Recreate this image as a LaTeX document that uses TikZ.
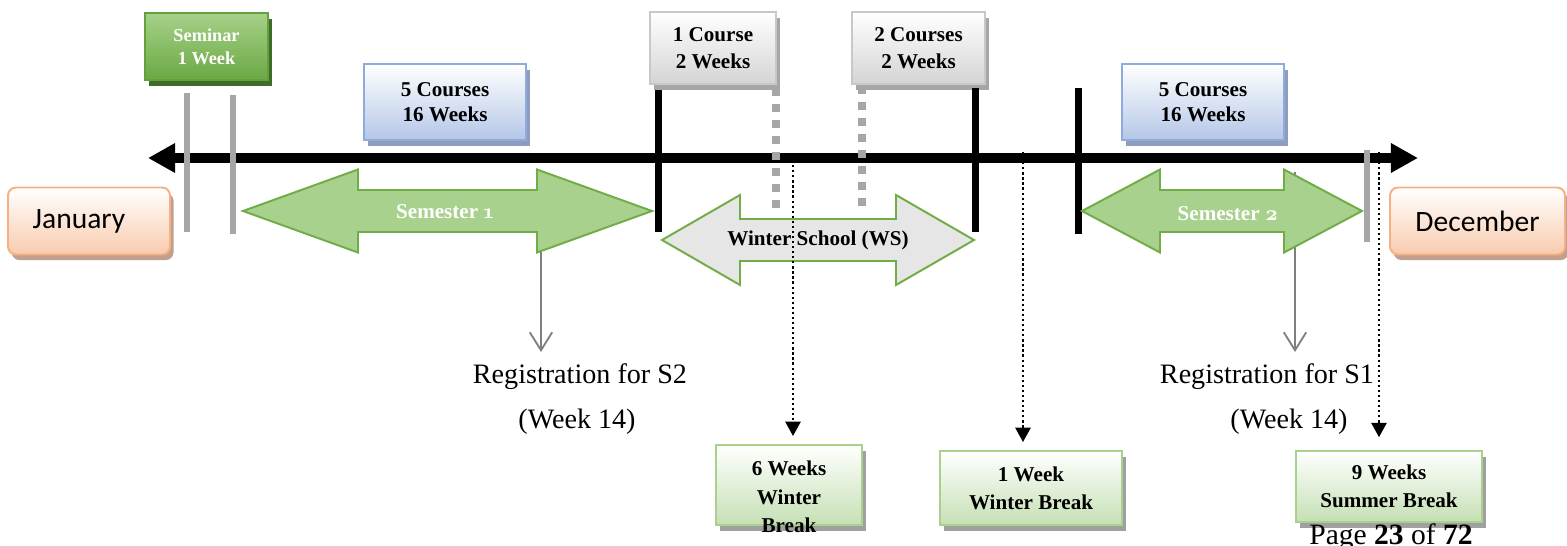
\documentclass[tikz,border=0pt]{standalone}
\usepackage{fontspec}
\setmainfont{Liberation Serif}
\newfontfamily\calibri{Carlito}
\newfontfamily\oldnum{lmroman10-regular.otf}[BoldFont=lmroman10-bold.otf, Numbers=OldStyle]
\usetikzlibrary{arrows.meta,shadows}
\definecolor{semgreen}{HTML}{A9D18E}
\definecolor{semedge}{HTML}{70AD47}
\definecolor{bargray}{HTML}{A6A6A6}
\definecolor{bluebot}{HTML}{B4C7E7}
\definecolor{blueedge}{HTML}{8FAADC}
\definecolor{blueshadow}{HTML}{8E9DBB}
\definecolor{breakbot}{HTML}{C5E0B4}
\definecolor{breakshadow}{HTML}{A0A0A0}
\definecolor{monthbot}{HTML}{F8CBAD}
\definecolor{monthedge}{HTML}{F4B183}
\definecolor{monthshadow}{HTML}{C29F8D}
\definecolor{wsgray}{HTML}{E7E6E6}
\definecolor{wsbot}{HTML}{D4D4D4}
\definecolor{wsedge}{HTML}{C8C8C8}
\definecolor{semtop}{HTML}{A6D189}
\definecolor{sembot}{HTML}{6BA843}
\definecolor{semboxedge}{HTML}{64A03C}
\definecolor{semshadow}{HTML}{3F6B2B}
\definecolor{reggray}{HTML}{7F7F7F}
\tikzset{
  sz/.style 2 args={minimum width=#1*0.025cm, minimum height=#2*0.025cm},
  card/.style={draw, line width=1.4pt, align=center, inner sep=0pt,
    font=\bfseries\fontsize{15}{19}\selectfont,
    drop shadow={shadow xshift=0.09cm, shadow yshift=-0.14cm, opacity=1, fill=#1}},
  seminarbox/.style={card=semshadow, top color=semtop, bottom color=sembot,
    draw=semboxedge, text=white, font=\bfseries\fontsize{13}{16.3}\selectfont},
  coursebox/.style={card=blueshadow, top color=white, bottom color=bluebot, draw=blueedge,
    font=\bfseries\fontsize{15}{17.7}\selectfont},
  wsbox/.style={card=bargray, top color=white, bottom color=wsbot, draw=wsedge},
  breakbox/.style={card=breakshadow, top color=white, bottom color=breakbot, draw=semgreen,
    font=\bfseries\fontsize{15}{20}\selectfont},
  breaktext/.style={align=center, inner sep=0pt, font=\bfseries\fontsize{15}{20.2}\selectfont},
  monthbox/.style={card=monthshadow, rounded corners=0.2cm, top color=white, bottom color=monthbot,
    draw=monthedge, font=\calibri\fontsize{21}{25}\selectfont},
  axis/.style={line width=0.25cm, {Triangle[length=0.68cm,width=0.7cm]}-{Triangle[length=0.68cm,width=0.7cm]}},
  graybar/.style={draw=bargray, line width=0.15cm},
  blackbar/.style={draw=black, line width=0.175cm},
  graydash/.style={draw=bargray, line width=0.2cm, dash pattern=on 0.2cm off 0.2cm},
  semarrow/.style={fill=semgreen, draw=semedge, line width=1.4pt, line join=miter},
  semlabel/.style={inner sep=0pt, text=white, font=\bfseries\fontsize{15}{18}\selectfont},
  wslabel/.style={semlabel, text=black},
  regarrow/.style={draw=reggray, line width=1.3pt, -{Straight Barb[length=0.45cm,width=0.56cm]}},
  regtext/.style={inner sep=0pt, font=\fontsize{20}{24}\selectfont},
  dotarrow/.style={line width=1.6pt, dash pattern=on 1.6pt off 2pt, shorten >=0.2cm,
    -{Triangle[length=0.36cm,width=0.38cm]}}
}
\newcommand{\semshape}[6]{\draw[#1] (#2,#4) -- (#2+#5,#4-#6) -- (#2+#5,#4-21) -- (#3-#5,#4-21)
  -- (#3-#5,#4-#6) -- (#3,#4) -- (#3-#5,#4+#6) -- (#3-#5,#4+21) -- (#2+#5,#4+21) -- (#2+#5,#4+#6) -- cycle;}

\begin{document}
\begin{tikzpicture}[x=0.025cm, y=-0.025cm]
  \useasboundingbox (0,0) rectangle (1567,546);
  \node[seminarbox, sz={123}{67}] (seminar) at (206.5,46.5) {Seminar\\1 Week};
  \node[coursebox, sz={162}{76}] (load1) at (445,102) {5 Courses\\16 Weeks};
  \node[wsbox, sz={126}{72}] (ws1) at (713,48) {1 Course\\2 Weeks};
  \node[wsbox, sz={133}{72}] (ws2) at (918.5,48) {2 Courses\\2 Weeks};
  \node[coursebox, sz={162}{76}] (load2) at (1203,102) {5 Courses\\16 Weeks};
  \node[monthbox, sz={162}{67}] (jan) at (89,221) {\hspace*{-0.5cm}January};
  \node[monthbox, sz={175}{67}] (dec) at (1477.5,221) {December};

  \coordinate (tstart) at (148,158);
  \coordinate (tend) at (1418,158);
  \draw[axis] (tstart) -- (tend);
  \foreach \x/\a/\b in {187/93/232, 233/95/234, 1367/150/242}{
    \draw[graybar] (\x,\a) -- (\x,\b);
  }
  \foreach \x/\a/\b in {658/90/232, 975/88/232, 1078/88/234}{
    \draw[blackbar] (\x,\a) -- (\x,\b);
  }
  \foreach \x/\a/\b in {776/88/210, 862/86/208}{
    \draw[graydash] (\x,\a) -- (\x,\b);
  }

  \coordinate (reg2top) at (541,248);
  \coordinate (reg2tip) at (541,352);
  \coordinate (reg1top) at (1295,172);
  \coordinate (reg1tip) at (1295,352);
  \draw[regarrow] (reg2top) -- (reg2tip);
  \draw[regarrow] (reg1top) -- (reg1tip);

  \semshape{semarrow}{243}{652}{211}{115}{41.5}
  \semshape{semarrow, fill=wsgray}{662}{974}{240}{78}{45}
  \semshape{semarrow}{1082}{1362}{211}{78}{41.5}
  \node[semlabel] (sem1) at (445,212) {Semester {\oldnum 1}};
  \node[wslabel] (wschool) at (818,240) {Winter School (WS)};
  \node[semlabel] (sem2) at (1228,214) {Semester {\oldnum 2}};

  \node[regtext] (regS2) at (580,377) {Registration for S2};
  \node[regtext] (wkS2) at (577,422) {(Week 14)};
  \node[regtext] (regS1) at (1267,377) {Registration for S1};
  \node[regtext] (wkS1) at (1289,422) {(Week 14)};

  \node[breakbox, sz={146}{80}] (wb6) at (789,485) {};
  \node[breaktext] (wb6txt) at (789,497) {6 Weeks\\Winter\\Break};
  \node[breakbox, sz={182}{74}] (wb1) at (1031,488) {1 Week\\Winter Break};
  \node[breakbox, sz={186}{71}] (sb9) at (1389,486.5) {9 Weeks\\Summer Break};

  \coordinate (dot6) at (793,160);
  \coordinate (dot1) at (1023,152);
  \coordinate (dot9) at (1379,152);
  \draw[dotarrow] (dot6) -- (dot6 |- wb6.north);
  \draw[dotarrow] (dot1) -- (dot1 |- wb1.north);
  \draw[dotarrow, shorten >=0.32cm] (dot9) -- (dot9 |- sb9.north);

  \node[anchor=base, inner sep=0pt, font=\fontsize{21}{25}\selectfont] (page) at (1391,544)
    {Page \textbf{23} of \textbf{72}};
\end{tikzpicture}
\end{document}
